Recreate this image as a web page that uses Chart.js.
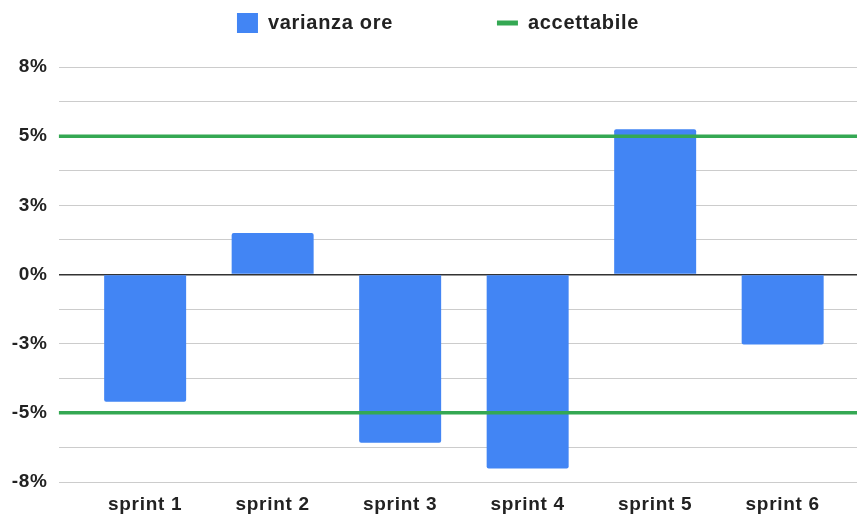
<!DOCTYPE html>
<html>
<head>
<meta charset="utf-8">
<script src="https://cdn.jsdelivr.net/npm/chart.js@4"></script>
<style>
  html, body { margin: 0; padding: 0; background: #fff; }
  #wrap { width: 857px; height: 516px; }
</style>
</head>
<body>
<div id="wrap"><canvas id="myChart"></canvas></div>
<script>
const sprints = ["sprint 1", "sprint 2", "sprint 3", "sprint 4", "sprint 5", "sprint 6"];
const varianza = [-4.91, 1.6, -6.49, -7.48, 5.6, -2.7];
const accettabile = 5.33;
const yTickLabels = ["-8%", "-5%", "-3%", "0%", "3%", "5%", "8%"];

const xMin = -0.678;
const xMax = 5.583;

const font = { family: "'Liberation Sans', Arial, sans-serif", size: 19, weight: "bold" };
const legendFont = { family: "'Liberation Sans', Arial, sans-serif", size: 20, weight: "bold" };

// small tweaks: a bit of letter spacing, extra room under the legend, legend nudged right
const tweaks = {
  id: "tweaks",
  beforeInit(chart) {
    const fit = chart.legend.fit;
    chart.legend.fit = function () {
      fit.call(this);
      this.height += 24;
    };
  },
  beforeLayout(chart) {
    chart.ctx.letterSpacing = "0.7px";
  },
  afterLayout(chart) {
    chart.legend.left += 19;
  },
  beforeDraw(chart) {
    chart.ctx.letterSpacing = "0.7px";
  },
};

const ctx = document.getElementById("myChart").getContext("2d");

const lineData = [
  { x: xMin, y: accettabile },
  { x: xMax, y: accettabile },
  { x: xMax, y: null },
  { x: xMin, y: -accettabile },
  { x: xMax, y: -accettabile },
];

const myChart = new Chart(ctx, {
  type: "bar",
  data: {
    datasets: [
      {
        type: "bar",
        label: "varianza ore",
        data: sprints.map((s, i) => ({ x: i, y: varianza[i] })),
        backgroundColor: "#4285f4",
        borderWidth: 0,
        borderRadius: 2,
        barPercentage: 0.643,
        categoryPercentage: 1,
        order: 1,
      },
      {
        type: "line",
        label: "accettabile",
        data: lineData,
        borderColor: "#34a853",
        backgroundColor: "#34a853",
        borderWidth: 3.5,
        pointRadius: 0,
        fill: false,
        spanGaps: false,
        order: 0,
      },
    ],
  },
  options: {
    animation: false,
    responsive: true,
    maintainAspectRatio: false,
    layout: { padding: { left: 0, top: 3, right: 0, bottom: 0 } },
    plugins: {
      tooltip: { enabled: false },
      legend: {
        labels: {
          usePointStyle: true,
          pointStyleWidth: 21,
          boxHeight: 21,
          padding: 10,
          color: "#222",
          font: legendFont,
          generateLabels(chart) {
            const items = Chart.defaults.plugins.legend.labels.generateLabels(chart);
            items.sort((a, b) => a.datasetIndex - b.datasetIndex);
            items[0].pointStyle = "rect";
            items[0].text += " ".repeat(15);
            items[1].pointStyle = "line";
            items[1].lineWidth = 5;
            return items;
          },
        },
      },
    },
    scales: {
      x: {
        type: "linear",
        min: xMin,
        max: xMax,
        offset: false,
        grid: { display: false, drawTicks: false },
        border: { display: false },
        afterBuildTicks(axis) {
          axis.ticks = sprints.map((s, i) => ({ value: i }));
        },
        afterFit(axis) {
          axis.height = 34;
        },
        ticks: {
          callback: (v) => sprints[v],
          padding: 11.5,
          color: "#222",
          font: font,
          maxRotation: 0,
          autoSkip: false,
        },
      },
      y: {
        min: -8,
        max: 8,
        afterFit(axis) {
          axis.width = 58.7;
        },
        ticks: {
          stepSize: 4 / 3,
          padding: 11,
          color: "#222",
          font: font,
          callback: (v, i) => (i % 2 === 0 ? yTickLabels[i / 2] : ""),
        },
        grid: {
          drawTicks: false,
          color: (c) => (Math.abs(c.tick.value) < 1e-6 ? "#333" : "#ccc"),
          lineWidth: (c) => (Math.abs(c.tick.value) < 1e-6 ? 1.5 : 1),
        },
        border: { display: false },
      },
    },
  },
  plugins: [tweaks],
});
</script>
</body>
</html>
